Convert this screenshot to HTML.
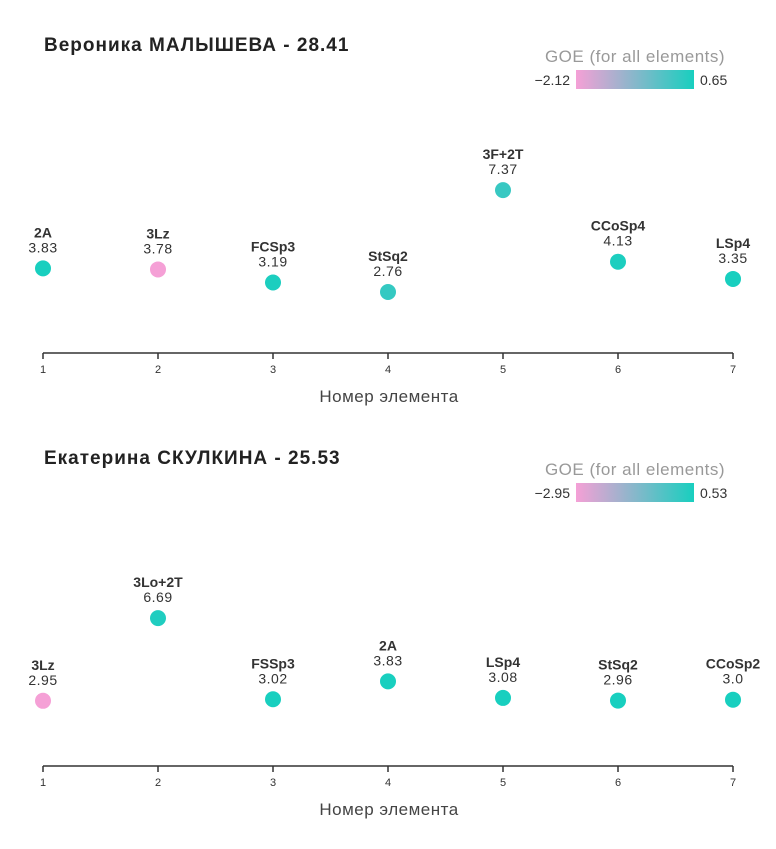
<!DOCTYPE html>
<html><head><meta charset="utf-8"><style>
body{margin:0;background:#fff;font-family:"Liberation Sans",sans-serif}
</style></head><body>
<svg id="s" width="776" height="844" xmlns="http://www.w3.org/2000/svg">
<defs><linearGradient id="g" x1="0" x2="1"><stop offset="0" stop-color="#f5a0d6"/><stop offset="1" stop-color="#18cfbf"/></linearGradient></defs>
</svg>
<script>
const titles=["Вероника МАЛЫШЕВА - 28.41","Екатерина СКУЛКИНА - 25.53"];
const elements1=["2A","3Lz","FCSp3","StSq2","3F+2T","CCoSp4","LSp4"];
const scores1=[3.83,3.78,3.19,2.76,7.37,4.13,3.35];
const scoreLabels1=["3.83","3.78","3.19","2.76","7.37","4.13","3.35"];
const goe1=[0.65,-2.12,0.6,0.3,0.25,0.6,0.65];
const goeRange1=[-2.12,0.65];
const elements2=["3Lz","3Lo+2T","FSSp3","2A","LSp4","StSq2","CCoSp2"];
const scores2=[2.95,6.69,3.02,3.83,3.08,2.96,3.0];
const scoreLabels2=["2.95","6.69","3.02","3.83","3.08","2.96","3.0"];
const goe2=[-2.95,0.4,0.53,0.53,0.53,0.53,0.53];
const goeRange2=[-2.95,0.53];
const ticks=[1,2,3,4,5,6,7];
const svg=document.getElementById('s');
const NS="http://www.w3.org/2000/svg";
function mk(t,a,txt){const e=document.createElementNS(NS,t);for(const k in a)e.setAttribute(k,a[k]);if(txt!==undefined)e.textContent=txt;svg.appendChild(e);return e;}
function mix(v,r){let t=(v-r[0])/(r[1]-r[0]);t=Math.max(0,Math.min(1,t));
const a=[245,160,214],b=[24,207,191];return `rgb(${a.map((c,i)=>Math.round(c+(b[i]-c)*t)).join(',')})`;}
const xs=n=>43+(n-1)*115;
function chart(off,title,els,sc,lbl,goe,rng){
 const base=353+off, ys=v=>base-v*22.1;
 let e=mk('text',{x:44,y:51+off,'font-size':19,'font-weight':'bold',fill:'#222','letter-spacing':1},title);
 
 e=mk('text',{x:635,y:62+off,'font-size':17,fill:'#999','text-anchor':'middle','letter-spacing':0.5},'GOE (for all elements)');
 
 e=mk('rect',{x:576,y:70+off,width:118,height:19,fill:'url(#g)'});
 
 e=mk('text',{x:570,y:85+off,'font-size':14,fill:'#333','text-anchor':'end'},'−'+Math.abs(rng[0]).toFixed(2));
 
 e=mk('text',{x:700,y:85+off,'font-size':14,fill:'#333'},rng[1].toFixed(2));
 
 e=mk('line',{x1:43,x2:733,y1:base,y2:base,stroke:'#333','stroke-width':1.5});
 
 ticks.forEach(t=>{
  e=mk('line',{x1:xs(t),x2:xs(t),y1:base,y2:base+6,stroke:'#333','stroke-width':1.5});
  
  e=mk('text',{x:xs(t),y:base+20,'font-size':11,fill:'#333','text-anchor':'middle'},t);
  
 });
 e=mk('text',{x:389,y:base+49,'font-size':17,fill:'#444','text-anchor':'middle','letter-spacing':0.5},'Номер элемента');
 
 els.forEach((n,i)=>{
  const x=xs(i+1),y=ys(sc[i]);
  e=mk('circle',{cx:x,cy:y,r:8,fill:mix(goe[i],rng)});
  
  e=mk('text',{x:x,y:y-31,'font-size':14,'font-weight':'bold',fill:'#333','text-anchor':'middle'},n);
  
  e=mk('text',{x:x,y:y-16,'font-size':14,fill:'#333','text-anchor':'middle','letter-spacing':0.5},lbl[i]);
  
 });
}
chart(0,titles[0],elements1,scores1,scoreLabels1,goe1,goeRange1);
chart(413,titles[1],elements2,scores2,scoreLabels2,goe2,goeRange2);
</script>
</body></html>
